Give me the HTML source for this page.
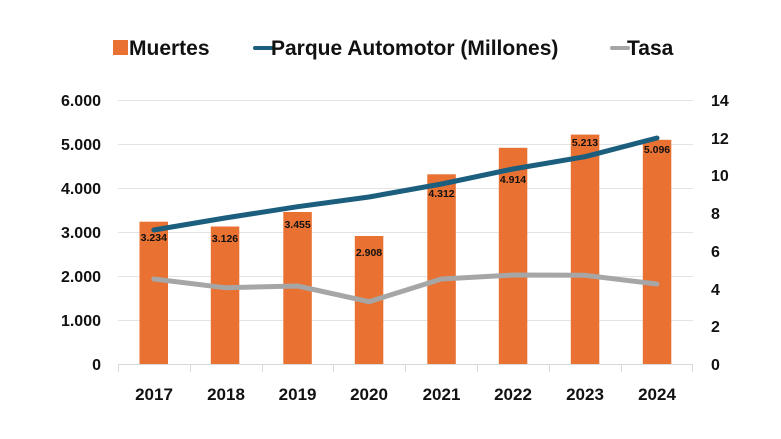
<!DOCTYPE html>
<html><head><meta charset="utf-8"><style>
body{margin:0;background:#fff;}
svg{display:block;font-family:"Liberation Sans",Arial,sans-serif;font-weight:bold;}
</style></head><body>
<svg width="781" height="439" viewBox="0 0 781 439">
<rect width="781" height="439" fill="#fff"/>
<rect x="113" y="40" width="15" height="15" fill="#E97132"/>
<text x="129" y="55" font-size="21" fill="#111">Muertes</text>
<line x1="255" y1="48" x2="272" y2="48" stroke="#1B5E7E" stroke-width="4" stroke-linecap="round"/>
<text x="271" y="55" font-size="21" fill="#111">Parque Automotor (Millones)</text>
<line x1="612" y1="48" x2="628" y2="48" stroke="#A6A6A6" stroke-width="4" stroke-linecap="round"/>
<text x="627" y="55" font-size="21" fill="#111">Tasa</text>
<g stroke="#E4E4E4" stroke-width="1">
<line x1="118" y1="100.5" x2="693" y2="100.5"/>
<line x1="118" y1="144.5" x2="693" y2="144.5"/>
<line x1="118" y1="188.5" x2="693" y2="188.5"/>
<line x1="118" y1="232.5" x2="693" y2="232.5"/>
<line x1="118" y1="276.5" x2="693" y2="276.5"/>
<line x1="118" y1="320.5" x2="693" y2="320.5"/>
</g>
<g stroke="#D9D9D9" stroke-width="1">
<line x1="118" y1="364.5" x2="693" y2="364.5"/>
<line x1="118.5" y1="364" x2="118.5" y2="372"/>
<line x1="190.5" y1="364" x2="190.5" y2="372"/>
<line x1="262.5" y1="364" x2="262.5" y2="372"/>
<line x1="333.5" y1="364" x2="333.5" y2="372"/>
<line x1="405.5" y1="364" x2="405.5" y2="372"/>
<line x1="477.5" y1="364" x2="477.5" y2="372"/>
<line x1="549.5" y1="364" x2="549.5" y2="372"/>
<line x1="621.5" y1="364" x2="621.5" y2="372"/>
<line x1="692.5" y1="364" x2="692.5" y2="372"/>
</g>
<g font-size="16" fill="#111" text-anchor="end">
<text x="101" y="106">6.000</text>
<text x="101" y="150">5.000</text>
<text x="101" y="194">4.000</text>
<text x="101" y="238">3.000</text>
<text x="101" y="282">2.000</text>
<text x="101" y="326">1.000</text>
<text x="101" y="370">0</text>
</g>
<g font-size="16" fill="#111" text-anchor="start">
<text x="711" y="106">14</text>
<text x="711" y="144">12</text>
<text x="711" y="181">10</text>
<text x="711" y="219">8</text>
<text x="711" y="257">6</text>
<text x="711" y="295">4</text>
<text x="711" y="332">2</text>
<text x="711" y="370">0</text>
</g>
<g fill="#E97132">
<rect x="139.5" y="221.7" width="28.5" height="142.3"/>
<rect x="210.8" y="226.5" width="28.5" height="137.5"/>
<rect x="283.3" y="212" width="28.5" height="152"/>
<rect x="354.8" y="236" width="28.5" height="128"/>
<rect x="427.3" y="174.3" width="28.5" height="189.7"/>
<rect x="498.8" y="147.8" width="28.5" height="216.2"/>
<rect x="570.8" y="134.6" width="28.5" height="229.4"/>
<rect x="642.8" y="139.8" width="28.5" height="224.2"/>
</g>
<g font-size="10.5" fill="#111" text-anchor="middle">
<text x="153.8" y="241">3.234</text>
<text x="225" y="242">3.126</text>
<text x="297.6" y="228">3.455</text>
<text x="369" y="256">2.908</text>
<text x="441.5" y="197">4.312</text>
<text x="513" y="183">4.914</text>
<text x="585" y="146">5.213</text>
<text x="657" y="153">5.096</text>
</g>
<polyline fill="none" stroke="#A6A6A6" stroke-width="5" stroke-linejoin="round" stroke-linecap="round"
points="153.8,279 225,287.7 297.6,286 369,301.7 441.5,279 513,275 585,275.3 657,284"/>
<polyline fill="none" stroke="#1B5E7E" stroke-width="5" stroke-linejoin="round" stroke-linecap="round"
points="153.8,230 225,218 297.6,206.7 369,197 441.5,184 513,169 585,156.7 657,138"/>
<g font-size="17" fill="#111" text-anchor="middle">
<text x="154" y="400">2017</text>
<text x="226" y="400">2018</text>
<text x="297.6" y="400">2019</text>
<text x="369" y="400">2020</text>
<text x="441.5" y="400">2021</text>
<text x="513" y="400">2022</text>
<text x="585" y="400">2023</text>
<text x="657" y="400">2024</text>
</g>
</svg>
</body></html>
